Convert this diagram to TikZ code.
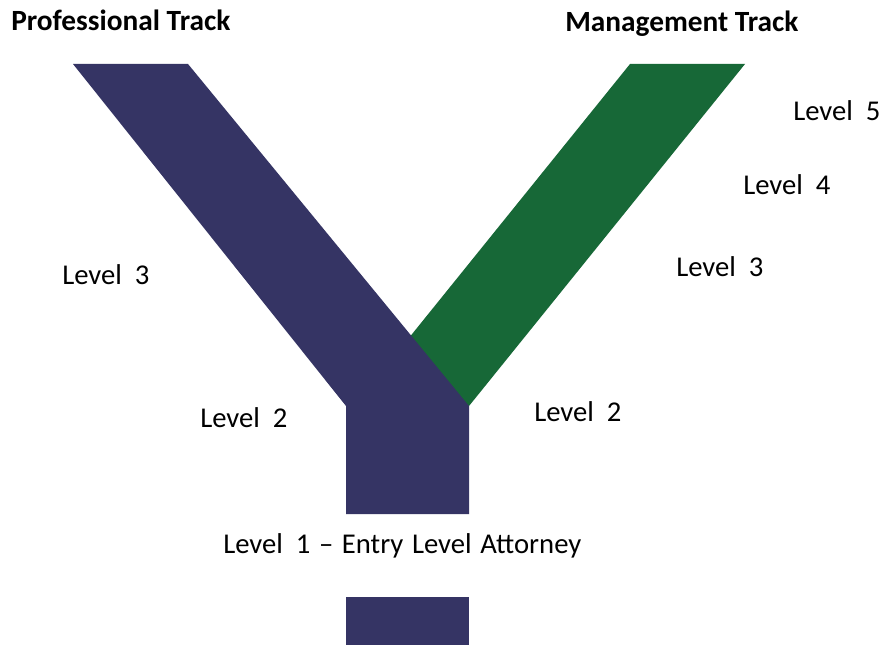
\documentclass[tikz,border=0pt]{standalone}
\usepackage{fontspec}
\setmainfont{Carlito}
\definecolor{trackpurple}{RGB}{53,52,100}
\definecolor{trackgreen}{RGB}{23,104,55}
\begin{document}
\begin{tikzpicture}[x=0.75pt,y=-0.75pt,
  lbl/.style={anchor=base west,inner sep=0pt,font=\fontsize{21.5}{26}\selectfont},
  ttl/.style={anchor=base west,inner sep=0pt,font=\fontsize{22}{26}\selectfont\bfseries}]
\useasboundingbox[fill=white] (0,0) rectangle (880,645);
% green management band
\fill[trackgreen] (630,64) -- (745,64) -- (469,406) -- (354,406) -- cycle;
% purple professional band with stem
\fill[trackpurple] (73,64) -- (188,64) -- (469,406) -- (469,514) -- (346,514) -- (346,406) -- cycle;
% bottom block
\fill[trackpurple] (346,597) rectangle (469,645);
% titles
\node[ttl] (prof) at (11,31) {Professional Track};
\node[ttl] (mgmt) at (565,32) {Management Track};
% levels
\node[lbl] (m5) at (793,121) {Level\ \ 5};
\node[lbl] (m4) at (743,195) {Level\ \ 4};
\node[lbl] (m3) at (676,276) {Level\ \ 3};
\node[lbl] (m2) at (534,421) {Level\ \ 2};
\node[lbl] (p3) at (62,284) {Level\ \ 3};
\node[lbl] (p2) at (200,427) {Level\ \ 2};
\node[lbl] (l1) at (223,553) {Level\ \ 1\hspace{0.3em}–\hspace{0.3em}Entry\hspace{0.3em}Level\hspace{0.3em}Attorney};
\end{tikzpicture}
\end{document}
